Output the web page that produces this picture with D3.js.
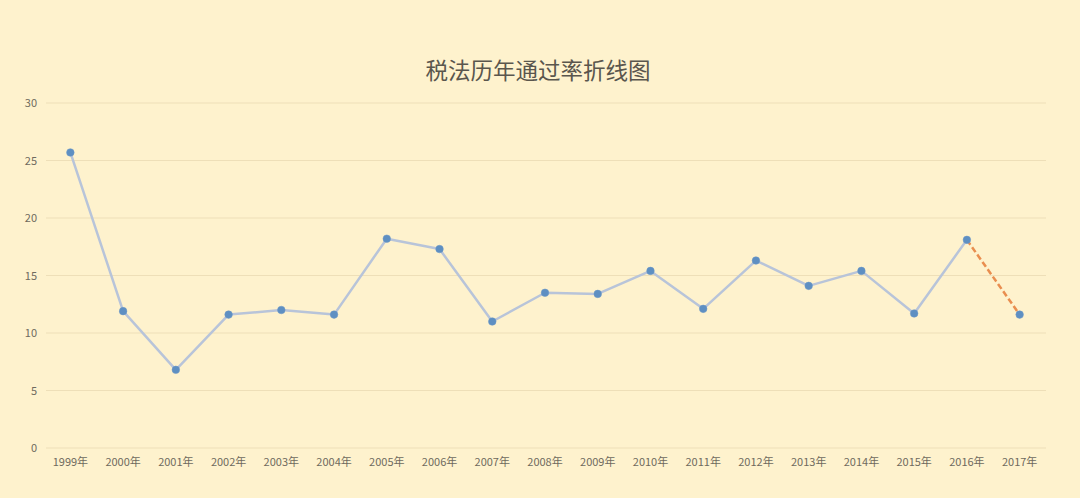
<!DOCTYPE html>
<html><head><meta charset="utf-8">
<script src="https://cdn.jsdelivr.net/npm/d3@7"></script>
<style>
html,body{margin:0;padding:0;background:#FEF2CD;}
svg{display:block;font-family:"Noto Sans CJK SC","Noto Sans",sans-serif;}
</style></head><body>
<svg id="c" width="1080" height="498"></svg>
<script>
const title = "税法历年通过率折线图";
const years = ["1999年","2000年","2001年","2002年","2003年","2004年","2005年","2006年","2007年","2008年","2009年","2010年","2011年","2012年","2013年","2014年","2015年","2016年","2017年"];
const rates = [25.7,11.9,6.8,11.6,12.0,11.6,18.2,17.3,11.0,13.5,13.4,15.4,12.1,16.3,14.1,15.4,11.7,18.1,11.6];
const yTicks = [0,5,10,15,20,25,30];

const svg = d3.select("#c");
svg.append("rect").attr("width",1080).attr("height",498).attr("fill","#FEF2CD");

const x = d3.scaleBand().domain(years).range([44,1046]);
const y = d3.scaleLinear().domain([0,30]).range([448,103]);
const cx = d => x(d) + x.bandwidth()/2;

svg.append("g").selectAll("line").data(yTicks).join("line")
  .attr("x1",46).attr("x2",1046)
  .attr("y1",d=>y(d)).attr("y2",d=>y(d))
  .attr("stroke","#EEDFB8").attr("stroke-width",1);

const yAxis = d3.axisLeft(y).tickValues(yTicks).tickSize(0).tickPadding(0);
const gy = svg.append("g").attr("transform","translate(37,0)").call(yAxis);
gy.select(".domain").remove();
gy.selectAll("text").attr("fill","#6f6a5e").style("font-size","11px")
  .style("font-family","'Noto Sans CJK SC',sans-serif");

const xAxis = d3.axisBottom(x).tickSize(0).tickPadding(0);
const gx = svg.append("g").attr("transform","translate(0,458)").call(xAxis);
gx.select(".domain").remove();
gx.selectAll("text").attr("fill","#6f6a5e").style("font-size","11px")
  .style("font-family","'Noto Sans CJK SC',sans-serif");

const pts = years.map((yr,i)=>({yr, v:rates[i]}));
const line = d3.line().x(d=>cx(d.yr)).y(d=>y(d.v));
svg.append("path").datum(pts.slice(0, pts.length-1))
  .attr("d",line).attr("fill","none")
  .attr("stroke","#B8C4D9").attr("stroke-width",2.5).attr("stroke-linejoin","round");

svg.append("path").datum(pts.slice(pts.length-2))
  .attr("d",line).attr("fill","none")
  .attr("stroke","#E98E4F").attr("stroke-width",2.5).attr("stroke-dasharray","6,3");

svg.append("g").selectAll("circle").data(pts).join("circle")
  .attr("cx",d=>cx(d.yr)).attr("cy",d=>y(d.v)).attr("r",3.8)
  .attr("fill","#5E8FC2").attr("stroke","#6B97C6").attr("stroke-width",0.5);

svg.append("text").attr("x",538).attr("y",79).attr("text-anchor","middle")
  .attr("fill","#5a564d").style("font-size","22.5px").text(title);
</script>
</body></html>
